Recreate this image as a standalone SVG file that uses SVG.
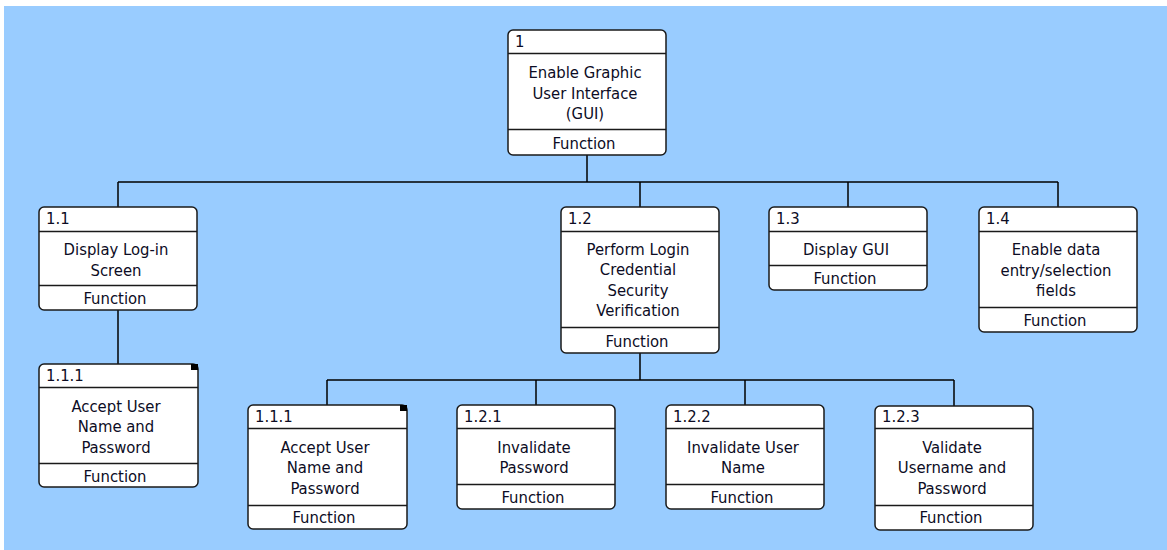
<svg xmlns="http://www.w3.org/2000/svg" width="1167" height="550" viewBox="0 0 1167 550">
<style>
.box{fill:#fff;stroke:#1a1a1a;stroke-width:1.5}
.div{stroke:#1a1a1a;stroke-width:1.5}
.conn{stroke:#000;stroke-width:1.5;fill:none}
text{font-family:"DejaVu Sans Condensed","DejaVu Sans",sans-serif;font-stretch:condensed;font-size:16.5px;fill:#0c0c24}
.num{text-anchor:start}
.c{text-anchor:middle}
.mark{fill:#000}
</style>
<rect x="0" y="0" width="1167" height="550" fill="#fff"/>
<rect x="4" y="6" width="1163" height="544" fill="#99ccff"/>
<g id="connectors">
<path class="conn" d="M587,155V182M118,182H1058M118,182V207M640,182V207M848,182V207M1058,182V207"/>
<path class="conn" d="M118,310V364"/>
<path class="conn" d="M640,353V380M327,380H954M327,380V405M536,380V405M745,380V405M954,380V406"/>
</g>
<g id="n1">
<rect class="box" x="508" y="30" width="158" height="125" rx="5"/>
<line class="div" x1="508" y1="53.5" x2="666" y2="53.5"/>
<line class="div" x1="508" y1="129.5" x2="666" y2="129.5"/>
<text class="num" x="515" y="47">1</text>
<text class="c" x="585" y="78">Enable Graphic</text>
<text class="c" x="585" y="98.5">User Interface</text>
<text class="c" x="585" y="119">(GUI)</text>
<text class="c" x="584" y="149">Function</text>
</g>
<g id="n1-1">
<rect class="box" x="39" y="207" width="158" height="103" rx="5"/>
<line class="div" x1="39" y1="231.5" x2="197" y2="231.5"/>
<line class="div" x1="39" y1="285.5" x2="197" y2="285.5"/>
<text class="num" x="46" y="224">1.1</text>
<text class="c" x="116" y="255">Display Log-in</text>
<text class="c" x="116" y="275.5">Screen</text>
<text class="c" x="115" y="304">Function</text>
</g>
<g id="n1-2">
<rect class="box" x="561" y="207" width="158" height="146" rx="5"/>
<line class="div" x1="561" y1="231.5" x2="719" y2="231.5"/>
<line class="div" x1="561" y1="327.5" x2="719" y2="327.5"/>
<text class="num" x="568" y="224">1.2</text>
<text class="c" x="638" y="254.5">Perform Login</text>
<text class="c" x="638" y="275">Credential</text>
<text class="c" x="638" y="295.5">Security</text>
<text class="c" x="638" y="316">Verification</text>
<text class="c" x="637" y="347">Function</text>
</g>
<g id="n1-3">
<rect class="box" x="769" y="207" width="158" height="83" rx="5"/>
<line class="div" x1="769" y1="231.5" x2="927" y2="231.5"/>
<line class="div" x1="769" y1="265.5" x2="927" y2="265.5"/>
<text class="num" x="776" y="224">1.3</text>
<text class="c" x="846" y="255">Display GUI</text>
<text class="c" x="845" y="284">Function</text>
</g>
<g id="n1-4">
<rect class="box" x="979" y="207" width="158" height="125" rx="5"/>
<line class="div" x1="979" y1="231.5" x2="1137" y2="231.5"/>
<line class="div" x1="979" y1="307.5" x2="1137" y2="307.5"/>
<text class="num" x="986" y="224">1.4</text>
<text class="c" x="1056" y="255">Enable data</text>
<text class="c" x="1056" y="275.5">entry/selection</text>
<text class="c" x="1056" y="296">fields</text>
<text class="c" x="1055" y="326">Function</text>
</g>
<g id="n1-1-1a">
<rect class="box" x="39" y="364" width="159" height="123" rx="5"/>
<line class="div" x1="39" y1="387.5" x2="198" y2="387.5"/>
<line class="div" x1="39" y1="463.5" x2="198" y2="463.5"/>
<rect class="mark" x="191" y="364" width="7" height="6"/>
<text class="num" x="46" y="381">1.1.1</text>
<text class="c" x="116" y="411.5">Accept User</text>
<text class="c" x="116" y="432">Name and</text>
<text class="c" x="116" y="452.5">Password</text>
<text class="c" x="115" y="482">Function</text>
</g>
<g id="n1-1-1b">
<rect class="box" x="248" y="405" width="159" height="124" rx="5"/>
<line class="div" x1="248" y1="428.5" x2="407" y2="428.5"/>
<line class="div" x1="248" y1="505.5" x2="407" y2="505.5"/>
<rect class="mark" x="400" y="405" width="7" height="6"/>
<text class="num" x="255" y="422">1.1.1</text>
<text class="c" x="325" y="452.5">Accept User</text>
<text class="c" x="325" y="473">Name and</text>
<text class="c" x="325" y="493.5">Password</text>
<text class="c" x="324" y="523">Function</text>
</g>
<g id="n1-2-1">
<rect class="box" x="457" y="405" width="158" height="104" rx="5"/>
<line class="div" x1="457" y1="428.5" x2="615" y2="428.5"/>
<line class="div" x1="457" y1="484.5" x2="615" y2="484.5"/>
<text class="num" x="464" y="422">1.2.1</text>
<text class="c" x="534" y="452.5">Invalidate</text>
<text class="c" x="534" y="473">Password</text>
<text class="c" x="533" y="503">Function</text>
</g>
<g id="n1-2-2">
<rect class="box" x="666" y="405" width="158" height="104" rx="5"/>
<line class="div" x1="666" y1="428.5" x2="824" y2="428.5"/>
<line class="div" x1="666" y1="484.5" x2="824" y2="484.5"/>
<text class="num" x="673" y="422">1.2.2</text>
<text class="c" x="743" y="452.5">Invalidate User</text>
<text class="c" x="743" y="473">Name</text>
<text class="c" x="742" y="503">Function</text>
</g>
<g id="n1-2-3">
<rect class="box" x="875" y="406" width="158" height="124" rx="5"/>
<line class="div" x1="875" y1="428.5" x2="1033" y2="428.5"/>
<line class="div" x1="875" y1="505.5" x2="1033" y2="505.5"/>
<text class="num" x="882" y="422">1.2.3</text>
<text class="c" x="952" y="452.5">Validate</text>
<text class="c" x="952" y="473">Username and</text>
<text class="c" x="952" y="493.5">Password</text>
<text class="c" x="951" y="523">Function</text>
</g>
</svg>
